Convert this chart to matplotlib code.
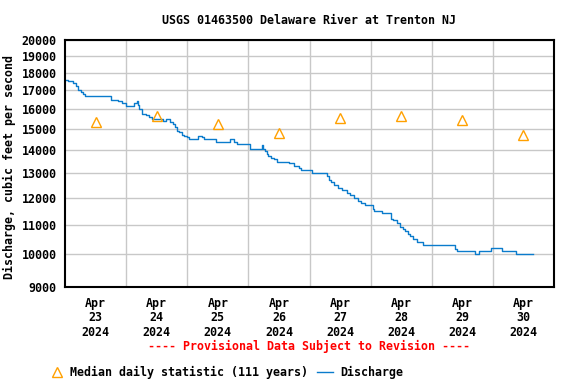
import numpy as np
import matplotlib
matplotlib.use('Agg')
import matplotlib.pyplot as plt
from matplotlib.lines import Line2D
from matplotlib.ticker import FixedLocator, FixedFormatter, NullLocator

# Discharge readings: hours after Apr 23 00:00, value in cfs (step changes)
q_hours = [0, 1.3, 3.3, 4.3, 5.2, 6.3, 7.2, 8.0, 18.1, 20.9, 22.5, 23.8,
           27.1, 28.2, 28.7, 29.2, 30.4, 31.8, 33.1, 34.2, 38.6, 39.7, 41.2,
           42.5, 43.1, 43.9, 44.8, 45.9, 46.7, 47.8, 48.8, 52.1, 53.7, 54.6,
           59.3, 64.8, 66.4, 67.4, 72.7, 77.5, 77.9, 78.6, 79.3, 79.9, 80.8,
           82.1, 83.2, 88.1, 90.0, 92.0, 92.8, 97.1, 103.0, 103.6, 104.4,
           105.6, 107.0, 108.7, 110.6, 111.9, 113.3, 115.2, 116.2, 117.7,
           120.9, 121.5, 124.4, 127.9, 128.9, 130.3, 131.6, 132.6, 133.5,
           134.6, 135.5, 136.6, 138.4, 140.7, 153.2, 154.1, 161.0, 162.6,
           167.2, 171.5, 177.2, 183.7]
q_cfs = [17600, 17500, 17400, 17250, 17000, 16900, 16800, 16700, 16500, 16400,
         16300, 16150, 16300, 16400, 16230, 16000, 15750, 15700, 15600, 15500,
         15400, 15500, 15350, 15250, 15100, 14900, 14850, 14700, 14650, 14600,
         14500, 14650, 14600, 14500, 14400, 14500, 14400, 14300, 14050, 14230,
         14050, 13950, 13850, 13750, 13650, 13620, 13500, 13430, 13300, 13210,
         13120, 13000, 12880, 12740, 12630, 12520, 12400, 12300, 12200, 12100,
         12000, 11900, 11800, 11720, 11590, 11500, 11430, 11220, 11160, 11080,
         10920, 10870, 10780, 10670, 10600, 10510, 10410, 10300, 10190, 10100,
         10000, 10100, 10200, 10100, 10000, 10000]

# Median daily statistic (111 years), plotted at noon of each day
days = ['23', '24', '25', '26', '27', '28', '29', '30']
median_cfs = [15360, 15640, 15250, 14800, 15540, 15640, 15450, 14730]

y_ticks = [9000, 10000, 11000, 12000, 13000, 14000, 15000, 16000,
           17000, 18000, 19000, 20000]

mono = 'DejaVu Sans Mono'
fs = 8.4
blue = '#0a7bcc'
orange = '#ffa000'
msize = 6.8

fig = plt.figure(figsize=(5.76, 3.84), dpi=100)
ax = fig.add_axes([65 / 576, 1 - 287 / 384, 489 / 576, 247 / 384])

ax.plot(q_hours, q_cfs, drawstyle='steps-post', color=blue, lw=1.0)
noon = [12 + 24 * i for i in range(len(days))]
ax.plot(noon, median_cfs, linestyle='none', marker='^', markersize=msize,
        markerfacecolor='none', markeredgecolor=orange, markeredgewidth=1.0)

ax.set_yscale('log')
ax.set_ylim(9000, 20000)
ax.yaxis.set_major_locator(FixedLocator(y_ticks))
ax.yaxis.set_major_formatter(FixedFormatter([str(v) for v in y_ticks]))
ax.yaxis.set_minor_locator(NullLocator())

ax.set_xlim(0, 192)
ax.set_xticks(noon)
ax.set_xticklabels(['Apr\n%s\n2024' % d for d in days])
ax.set_xticks([24 * i for i in range(1, 8)], minor=True)

ax.grid(False)
ax.grid(True, which='minor', axis='x', color='#c8c8c8', lw=1.0)
ax.grid(True, which='major', axis='y', color='#c8c8c8', lw=1.0)
ax.set_axisbelow(True)
ax.tick_params(axis='both', which='both', length=0)
ax.tick_params(axis='y', pad=6)
ax.tick_params(axis='x', pad=7)
for lab in ax.get_xticklabels() + ax.get_yticklabels():
    lab.set_fontfamily(mono)
    lab.set_fontweight('bold')
    lab.set_fontsize(fs)
    lab.set_linespacing(1.15)
for sp in ax.spines.values():
    sp.set_linewidth(1.5)

ax.set_ylabel('Discharge, cubic feet per second', fontfamily=mono,
              fontweight='bold', fontsize=fs)
ax.yaxis.set_label_coords(-49 / 489, 0.486)

fig.text(309 / 576, 1 - 20 / 384, 'USGS 01463500 Delaware River at Trenton NJ',
         ha='center', va='center', fontfamily=mono, fontweight='bold', fontsize=fs)
fig.text(309 / 576, 1 - 346 / 384, '---- Provisional Data Subject to Revision ----',
         ha='center', va='center', fontfamily=mono, fontweight='bold',
         fontsize=fs, color='red')

# legend row
yl = 1 - 372 / 384
fig.add_artist(Line2D([57 / 576], [yl], marker='^', markersize=msize, linestyle='none',
                      markerfacecolor='none', markeredgecolor=orange,
                      markeredgewidth=1.0, transform=fig.transFigure))
fig.text(70 / 576, yl, 'Median daily statistic (111 years)', ha='left', va='center',
         fontfamily=mono, fontweight='bold', fontsize=fs)
fig.add_artist(Line2D([317 / 576, 333 / 576], [yl, yl], color=blue, lw=1.0,
                      transform=fig.transFigure))
fig.text(340 / 576, yl, 'Discharge', ha='left', va='center',
         fontfamily=mono, fontweight='bold', fontsize=fs)

fig.savefig('out.png', dpi=100)
